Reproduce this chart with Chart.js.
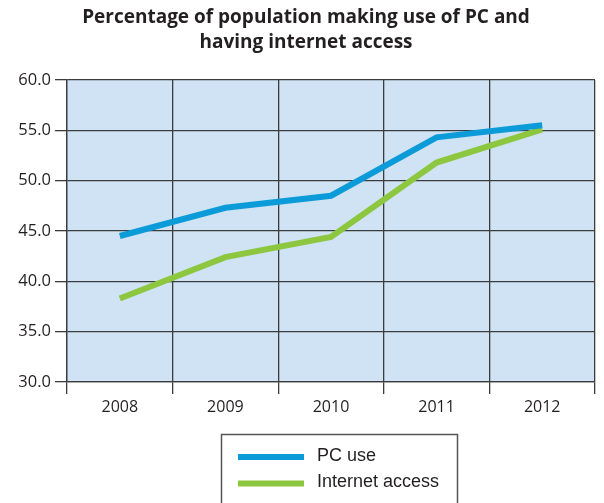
<!DOCTYPE html>
<html>
<head>
<meta charset="utf-8">
<script src="https://cdn.jsdelivr.net/npm/chart.js@4.4.1/dist/chart.umd.min.js"></script>
<style>
html,body{margin:0;padding:0;background:#fff;}
#wrap{width:604px;height:503px;}
</style>
</head>
<body>
<div id="wrap"><canvas id="c" width="604" height="503"></canvas></div>
<script>
const years = ['2008', '2009', '2010', '2011', '2012'];
const pcUse = [44.5, 47.3, 48.5, 54.3, 55.5];
const internetAccess = [38.3, 42.4, 44.4, 51.8, 55.1];
const seriesNames = ['PC use', 'Internet access'];
const seriesColors = ['#0b9bd8', '#8dc63f'];
const titleLines = ['Percentage of population making use of PC and', 'having internet access'];

const textColor = '#231f20';
const gridColor = '#3c3c3c';

const plotBg = {
  id: 'plotBg',
  beforeDraw(chart) {
    const {ctx, chartArea: a} = chart;
    ctx.save();
    ctx.fillStyle = '#cfe3f4';
    ctx.fillRect(a.left, a.top, a.right - a.left, a.bottom - a.top);
    ctx.restore();
  }
};

const boxLegend = {
  id: 'boxLegend',
  afterDraw(chart) {
    const ctx = chart.ctx;
    ctx.save();
    ctx.strokeStyle = '#555';
    ctx.lineWidth = 1.5;
    ctx.strokeRect(221.5, 434.5, 236, 80);
    chart.data.datasets.forEach((ds, i) => {
      const y = 457 + i * 26.5;
      ctx.strokeStyle = ds.borderColor;
      ctx.lineWidth = 6;
      ctx.beginPath();
      ctx.moveTo(238, y);
      ctx.lineTo(304, y);
      ctx.stroke();
      ctx.fillStyle = textColor;
      ctx.font = '18px "Liberation Sans", Arial, sans-serif';
      ctx.textBaseline = 'middle';
      ctx.textAlign = 'left';
      ctx.fillText(ds.label, 317, y - 1);
    });
    ctx.restore();
  }
};

new Chart(document.getElementById('c'), {
  type: 'line',
  data: {
    labels: years,
    datasets: [
      {label: seriesNames[0], data: pcUse, borderColor: seriesColors[0], borderWidth: 6, pointRadius: 0, tension: 0, fill: false, borderCapStyle: 'butt'},
      {label: seriesNames[1], data: internetAccess, borderColor: seriesColors[1], borderWidth: 6, pointRadius: 0, tension: 0, fill: false, borderCapStyle: 'butt'}
    ]
  },
  options: {
    responsive: false,
    animation: false,
    layout: {padding: {left: 17, right: 9, top: 0, bottom: 81}},
    plugins: {
      legend: {display: false},
      tooltip: {enabled: false},
      title: {
        display: true,
        text: titleLines,
        color: textColor,
        font: {family: 'Open Sans', size: 19, weight: 'bold', lineHeight: 1.32},
        padding: {top: 5, bottom: 24.8}
      }
    },
    scales: {
      x: {
        type: 'category',
        offset: true,
        grid: {offset: true, color: gridColor, lineWidth: 1.3, tickLength: 12, tickColor: gridColor, drawTicks: true},
        border: {display: true, color: gridColor, width: 1.3},
        ticks: {color: textColor, font: {family: 'Open Sans', size: 16}, padding: 4, maxRotation: 0},
        afterFit(s) { s.height = 40; }
      },
      y: {
        min: 30, max: 60,
        ticks: {stepSize: 5, color: textColor, font: {family: 'Open Sans', size: 16.5}, padding: 4,
          callback: v => Number(v).toFixed(1)},
        grid: {color: gridColor, lineWidth: 1.3, tickLength: 12, tickColor: gridColor},
        border: {display: true, color: gridColor, width: 1.3},
        afterFit(s) { s.width = 50; }
      }
    }
  },
  plugins: [plotBg, boxLegend]
});
</script>
</body>
</html>
